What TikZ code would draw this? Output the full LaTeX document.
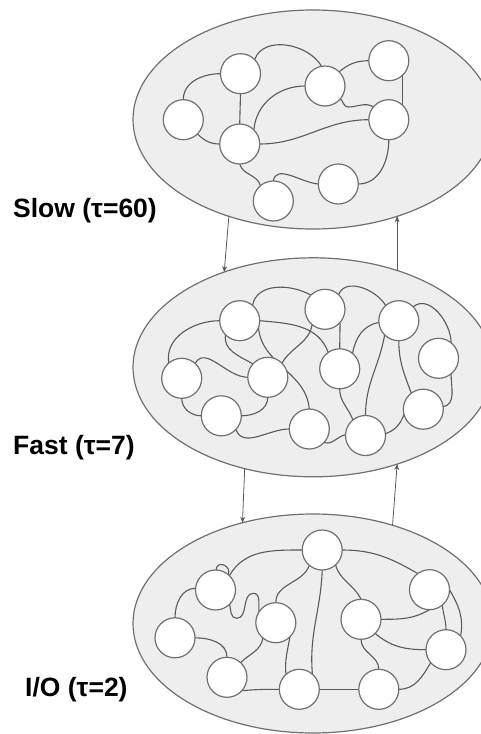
\documentclass[tikz,border=0pt]{standalone}
\usepackage{fontspec}
\setmainfont{Liberation Sans}
\usetikzlibrary{shapes.geometric,arrows.meta}
\pgfdeclarelayer{elllayer}
\pgfdeclarelayer{edgelayer}
\pgfsetlayers{elllayer,edgelayer,main}
\definecolor{ellfill}{HTML}{EEEEEE}
\definecolor{ellline}{HTML}{707070}
\definecolor{edgecol}{HTML}{5A5A5A}
\tikzset{
  group/.style={ellipse, draw=ellline, fill=ellfill, line width=1.2pt, minimum width=360, minimum height=219, inner sep=0, outer sep=0},
  unit/.style={circle, draw=ellline, fill=white, line width=1.2pt, minimum size=40, inner sep=0, outer sep=0},
  link/.style={draw=edgecol, line width=1.1pt},
  arr/.style={draw=edgecol, line width=0.8pt, -{Stealth[length=6pt,width=5pt]}},
  lbl/.style={font=\fontsize{26.5}{30}\selectfont\bfseries, anchor=west, inner sep=0, text=black}
}
\begin{document}
\begin{tikzpicture}[x=1pt,y=1pt]
\useasboundingbox (0,0) rectangle (481,-734);
\begin{pgfonlayer}{elllayer}
\node[group] (top) at (313,-119.5) {};
\node[group] (mid) at (313,-367.3) {};
\node[group] (bot) at (313,-623.5) {};
\end{pgfonlayer}
% top circles
\node[unit] (s1) at (240.5,-73.7) {};
\node[unit] (s2) at (183.3,-119.7) {};
\node[unit] (s3) at (239.7,-144) {};
\node[unit] (s4) at (325,-86) {};
\node[unit] (s5) at (388.8,-60.7) {};
\node[unit] (s6) at (388.8,-119.7) {};
\node[unit] (s7) at (273.3,-201) {};
\node[unit] (s8) at (338.3,-184) {};
% middle circles
\node[unit] (mA) at (239.7,-320.7) {};
\node[unit] (mB) at (325,-309.3) {};
\node[unit] (mC) at (398.8,-320.7) {};
\node[unit] (mD) at (438.5,-358.3) {};
\node[unit] (mE) at (181.7,-378.3) {};
\node[unit] (mF) at (267.8,-377.3) {};
\node[unit] (mG) at (339.7,-368.8) {};
\node[unit] (mH) at (221.3,-415.8) {};
\node[unit] (mI) at (309.3,-429) {};
\node[unit] (mJ) at (365.5,-435.5) {};
\node[unit] (mK) at (423.3,-409.2) {};
% bottom circles
\node[unit] (bP) at (322.2,-550) {};
\node[unit] (bQ) at (215.5,-590) {};
\node[unit] (bR) at (429.5,-589.7) {};
\node[unit] (bS) at (275.8,-622.7) {};
\node[unit] (bT) at (361,-619.3) {};
\node[unit] (bU) at (175,-637.8) {};
\node[unit] (bV) at (446,-649.7) {};
\node[unit] (bW) at (227,-677.3) {};
\node[unit] (bX) at (299.3,-689.3) {};
\node[unit] (bY) at (378.8,-689.3) {};
\begin{pgfonlayer}{edgelayer}
% top edges
\draw[link] (s2.90) to[out=90,in=180] (s1.180);
\draw[link] (s2.-45) to[out=-45,in=180] (s3.180);
\draw[link] (s1.270) -- (s3.90);
\draw[link] (s1.45) to[out=70,in=120] (s4.100);
\draw[link] (s3.45) to[out=85,in=180] (s4.180);
\draw[link] (s3.0) to[out=0,in=180] (s6.180);
\draw[link] (s4.45) to[out=40,in=180] (s5.180);
\draw[link] (s4.-40) to[out=-40,in=180] (348,-107) to[out=0,in=150] (s6.140);
\draw[link] (s5.-47) -- (s6.47);
\draw[link] (s6.270) to[out=-90,in=0] (s8.0);
\draw[link] (s3.270) to[out=-75,in=105] (s7.130);
\draw[link] (s7.90) to[out=80,in=175] (s8.180);
% middle edges
\draw[link] (mE.130) to[out=100,in=180] (mA.180);
\draw[link] (mE.48) to[out=60,in=180] (mF.180);
\draw[link] (mE.270) to[out=-90,in=180] (mH.180);
\draw[link] (mA.225) to[out=-100,in=150] (mF.138);
\draw[link] (mA.50) to[out=80,in=150] (mB.135);
\draw[link] (mA.-20) to[out=-85,in=95] (mI.90);
\draw[link] (mA.0) to[out=-5,in=110] (mG.125);
\draw[link] (mB.-130) to[out=-100,in=60] (mF.45);
\draw[link] (mB.-41) -- (mG.90);
\draw[link] (mB.47) to[out=70,in=120] (mC.131);
\draw[link] (mC.185) to[out=190,in=80] (mG.50);
\draw[link] (mC.-135) to[out=-100,in=90] (mJ.90);
\draw[link] (mC.270) to[out=-90,in=110] (mK.127);
\draw[link] (mC.44) to[out=40,in=90] (mD.51);
\draw[link] (mD.-51) to[out=-90,in=10] (mK.7);
\draw[link] (mF.270) to[out=-90,in=0] (mH.0);
\draw[link] (mH.-43) to[out=-70,in=180] (mI.180);
\draw[link] (mG.270) to[out=-90,in=110] (mJ.129);
\draw[link] (mI.-42) to[out=-20,in=190] (mJ.178);
\draw[link] (mJ.5) to[out=20,in=-110] (mK.195);
% bottom edges
\draw[link] (bP.180) to[out=180,in=60] (bQ.46);
\draw[link] (bQ.88) to[out=90,in=70,looseness=2] (bQ.50);
\draw[link] (bQ.175) to[out=180,in=90] (bU.90);
\draw[link] (bQ.-45) to[out=-80,in=180] (236.7,-618.3) to[out=0,in=180] (253.3,-593.3) to[out=0,in=95] (bS.147);
\draw[link] (bP.230) to[out=-110,in=90] (bS.90);
\draw[link] (bP.270) to[out=-92,in=95] (bX.49);
\draw[link] (bP.-48) to[out=-75,in=115] (bT.90);
\draw[link] (bP.0) to[out=0,in=150] (bR.126);
\draw[link] (bR.0) to[out=-60,in=80] (bV.43);
\draw[link] (bR.-50) to[out=-85,in=90] (bV.90);
\draw[link] (bT.0) to[out=0,in=-150] (bR.-90);
\draw[link] (bT.-45) to[out=-40,in=180] (bV.180);
\draw[link] (bT.270) to[out=-90,in=90] (bY.90);
\draw[link] (bU.0) to[out=0,in=90] (bW.90);
\draw[link] (bS.-130) to[out=-100,in=45] (bW.47);
\draw[link] (bS.-45) to[out=-100,in=95] (bX.132);
\draw[link] (bW.-42) to[out=5,in=180] (bX.180);
\draw[link] (bX.0) -- (bY.180);
\draw[link] (bY.0) to[out=0,in=-120] (bV.220);
\end{pgfonlayer}
% arrows between levels
\draw[arr] (top.-131.8) -- (mid.133);
\draw[arr] (mid.49) -- (top.-49);
\draw[arr] (mid.-124) -- (bot.125);
\draw[arr] (bot.51) -- (mid.-49);
% labels
\node[lbl] (l1) at (13,-211) {Slow (τ=60)};
\node[lbl] (l2) at (13,-448) {Fast (τ=7)};
\node[lbl] (l3) at (25,-690) {I/O (τ=2)};
\end{tikzpicture}
\end{document}
